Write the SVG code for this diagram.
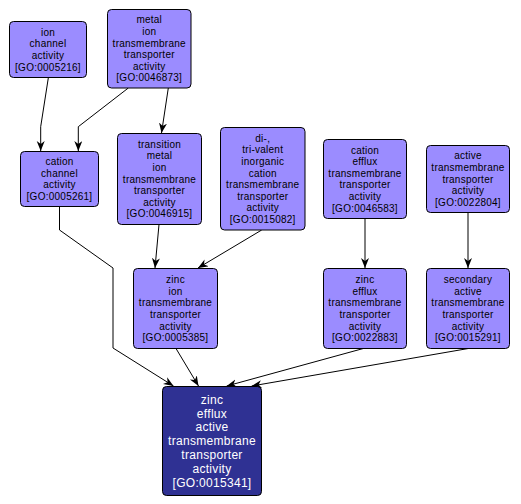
<svg xmlns="http://www.w3.org/2000/svg" width="521" height="504" viewBox="0 0 521 504">
<defs>
<marker id="arr" markerUnits="userSpaceOnUse" markerWidth="11" markerHeight="9" refX="10" refY="4" orient="auto">
<path d="M0,0 L10,4 L0,8 L3,4 z" fill="#000"/>
</marker>
<style>
.n rect{fill:#9b8cff;stroke:#000;stroke-width:1}
.n text{font-family:"Liberation Sans",Arial,sans-serif;font-size:10px;letter-spacing:0.25px;fill:#000;text-anchor:middle}
.d rect{fill:#2f3193;stroke:#000;stroke-width:1}
.d text{font-family:"Liberation Sans",Arial,sans-serif;font-size:12px;letter-spacing:0.3px;fill:#fff;text-anchor:middle}
.e path{fill:none;stroke:#000;stroke-width:1;marker-end:url(#arr)}
</style>
</defs>
<rect width="521" height="504" fill="#fff"/>
<g class="e" id="connectors">
<path d="M48.3,78 L40.7,126.7 L40.7,151"/>
<path d="M128.3,88 L78.3,126.7 L78.3,151"/>
<path d="M168.3,88 L161.5,133"/>
<path d="M159,224.5 L155,268"/>
<path d="M261.7,230 L198,268"/>
<path d="M365,218.5 L365,268"/>
<path d="M468,212.5 L468,268"/>
<path d="M59.5,206.5 L59.5,230 L113,268 L113,348 L173.5,386"/>
<path d="M176,348.5 L198.5,386"/>
<path d="M363.3,348.5 L226.7,386"/>
<path d="M468.3,348.5 L251.7,386"/>
</g>
<g class="n" id="GO0005216">
<rect x="9.5" y="21.5" width="77" height="56" rx="4"/>
<text x="48" y="35.7"><tspan x="48">ion</tspan><tspan x="48" dy="11.6">channel</tspan><tspan x="48" dy="11.6">activity</tspan><tspan x="48" dy="11.6">[GO:0005216]</tspan></text>
</g>
<g class="n" id="GO0046873">
<rect x="107.5" y="9.5" width="83.5" height="78.5" rx="4"/>
<text x="149.25" y="23.35"><tspan x="149.25">metal</tspan><tspan x="149.25" dy="11.6">ion</tspan><tspan x="149.25" dy="11.6">transmembrane</tspan><tspan x="149.25" dy="11.6">transporter</tspan><tspan x="149.25" dy="11.6">activity</tspan><tspan x="149.25" dy="11.6">[GO:0046873]</tspan></text>
</g>
<g class="n" id="GO0005261">
<rect x="20.5" y="151.5" width="78" height="55" rx="4"/>
<text x="59.5" y="165.2"><tspan x="59.5">cation</tspan><tspan x="59.5" dy="11.6">channel</tspan><tspan x="59.5" dy="11.6">activity</tspan><tspan x="59.5" dy="11.6">[GO:0005261]</tspan></text>
</g>
<g class="n" id="GO0046915">
<rect x="117.5" y="133.5" width="84" height="91" rx="4"/>
<text x="159.5" y="147.8"><tspan x="159.5">transition</tspan><tspan x="159.5" dy="11.6">metal</tspan><tspan x="159.5" dy="11.6">ion</tspan><tspan x="159.5" dy="11.6">transmembrane</tspan><tspan x="159.5" dy="11.6">transporter</tspan><tspan x="159.5" dy="11.6">activity</tspan><tspan x="159.5" dy="11.6">[GO:0046915]</tspan></text>
</g>
<g class="n" id="GO0015082">
<rect x="220.5" y="127.5" width="84.5" height="102.5" rx="4"/>
<text x="262.75" y="141.75"><tspan x="262.75">di-,</tspan><tspan x="262.75" dy="11.6">tri-valent</tspan><tspan x="262.75" dy="11.6">inorganic</tspan><tspan x="262.75" dy="11.6">cation</tspan><tspan x="262.75" dy="11.6">transmembrane</tspan><tspan x="262.75" dy="11.6">transporter</tspan><tspan x="262.75" dy="11.6">activity</tspan><tspan x="262.75" dy="11.6">[GO:0015082]</tspan></text>
</g>
<g class="n" id="GO0046583">
<rect x="323.5" y="139.5" width="83" height="79" rx="4"/>
<text x="365" y="153.6"><tspan x="365">cation</tspan><tspan x="365" dy="11.6">efflux</tspan><tspan x="365" dy="11.6">transmembrane</tspan><tspan x="365" dy="11.6">transporter</tspan><tspan x="365" dy="11.6">activity</tspan><tspan x="365" dy="11.6">[GO:0046583]</tspan></text>
</g>
<g class="n" id="GO0022804">
<rect x="426.5" y="145.5" width="83" height="67" rx="4"/>
<text x="468" y="159.4"><tspan x="468">active</tspan><tspan x="468" dy="11.6">transmembrane</tspan><tspan x="468" dy="11.6">transporter</tspan><tspan x="468" dy="11.6">activity</tspan><tspan x="468" dy="11.6">[GO:0022804]</tspan></text>
</g>
<g class="n" id="GO0005385">
<rect x="133.5" y="268.5" width="84" height="80" rx="4"/>
<text x="175.5" y="283.1"><tspan x="175.5">zinc</tspan><tspan x="175.5" dy="11.6">ion</tspan><tspan x="175.5" dy="11.6">transmembrane</tspan><tspan x="175.5" dy="11.6">transporter</tspan><tspan x="175.5" dy="11.6">activity</tspan><tspan x="175.5" dy="11.6">[GO:0005385]</tspan></text>
</g>
<g class="n" id="GO0022883">
<rect x="323.5" y="268.5" width="83" height="80" rx="4"/>
<text x="365" y="283.1"><tspan x="365">zinc</tspan><tspan x="365" dy="11.6">efflux</tspan><tspan x="365" dy="11.6">transmembrane</tspan><tspan x="365" dy="11.6">transporter</tspan><tspan x="365" dy="11.6">activity</tspan><tspan x="365" dy="11.6">[GO:0022883]</tspan></text>
</g>
<g class="n" id="GO0015291">
<rect x="426.5" y="268.5" width="83" height="80" rx="4"/>
<text x="468" y="283.1"><tspan x="468">secondary</tspan><tspan x="468" dy="11.6">active</tspan><tspan x="468" dy="11.6">transmembrane</tspan><tspan x="468" dy="11.6">transporter</tspan><tspan x="468" dy="11.6">activity</tspan><tspan x="468" dy="11.6">[GO:0015291]</tspan></text>
</g>
<g class="d" id="GO0015341">
<rect x="162.5" y="386.5" width="99" height="109" rx="4"/>
<text x="212" y="403.6"><tspan x="212">zinc</tspan><tspan x="212" dy="13.9">efflux</tspan><tspan x="212" dy="13.9">active</tspan><tspan x="212" dy="13.9">transmembrane</tspan><tspan x="212" dy="13.9">transporter</tspan><tspan x="212" dy="13.9">activity</tspan><tspan x="212" dy="13.9">[GO:0015341]</tspan></text>
</g>
</svg>
